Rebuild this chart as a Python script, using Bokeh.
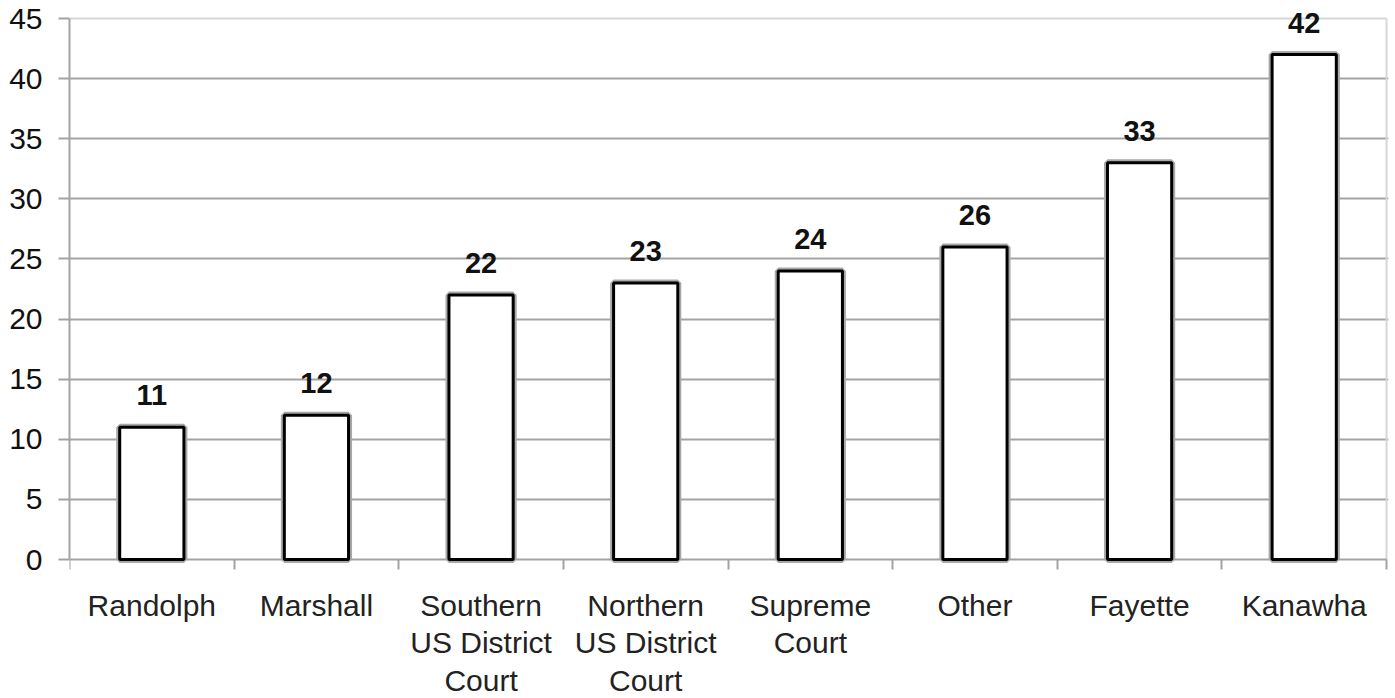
from bokeh.plotting import figure
from bokeh.models import FixedTicker, Range1d, ColumnDataSource
from bokeh.core.properties import value
from bokeh.embed import file_html
from bokeh.resources import INLINE

# Cases by venue
categories = ["Randolph", "Marshall", "Southern\nUS District\nCourt",
              "Northern\nUS District\nCourt", "Supreme\nCourt", "Other",
              "Fayette", "Kanawha"]
counts = [11, 12, 22, 23, 24, 26, 33, 42]
y_ticks = [0, 5, 10, 15, 20, 25, 30, 35, 40, 45]

FONT = "Liberation Sans"
GRID = "#a3a3a3"
LIGHT = "#d6d6d6"

n = len(categories)
centers = [i + 0.5 for i in range(n)]
src = ColumnDataSource(dict(x=centers, top=counts,
                            label=[str(c) for c in counts]))

# the frame fills the canvas height; the category axis sits at y = 0
p = figure(width=1395, height=698, output_backend="svg", toolbar_location=None,
           x_range=Range1d(0, n + 0.012),
           y_range=Range1d(-11.56, 46.5),
           min_border_left=69, min_border_right=7,
           min_border_top=0, min_border_bottom=0)
p.outline_line_color = None
p.background_fill_color = "white"

# grid
p.xgrid.visible = False
p.ygrid.ticker = FixedTicker(ticks=y_ticks[1:-1])
p.ygrid.grid_line_color = GRID
p.ygrid.grid_line_width = 2
p.segment(x0=[0], y0=[y_ticks[-1]], x1=[n], y1=[y_ticks[-1]],
          line_color=LIGHT, line_width=2)
p.segment(x0=[n], y0=[0], x1=[n], y1=[y_ticks[-1]],
          line_color=LIGHT, line_width=2)

# bars: grey halo under a black outline, drawn above the axis line
halo = p.vbar(x="x", top="top", bottom=0, width=0.39, source=src,
              fill_color="white", line_color="#a8a8a8", line_width=7)
bars = p.vbar(x="x", top="top", bottom=0, width=0.39, source=src,
              fill_color="white", line_color="black", line_width=3)
halo.level = "overlay"
bars.level = "overlay"

p.text(x="x", y="top", text="label", source=src, text_align="center",
       text_baseline="alphabetic", y_offset=-32,
       text_font=value(FONT), text_font_size="29px",
       text_font_style="bold", text_color="#111111")

# y axis
ya = p.yaxis[0]
ya.ticker = FixedTicker(ticks=y_ticks)
ya.bounds = (0, y_ticks[-1])
ya.axis_line_color = GRID
ya.axis_line_width = 2
ya.major_tick_line_color = GRID
ya.major_tick_line_width = 2
ya.major_tick_out = 11
ya.major_tick_in = 0
ya.minor_tick_line_color = None
ya.major_label_standoff = 16
ya.major_label_text_font = FONT
ya.major_label_text_font_size = "30px"
ya.major_label_text_color = "#111111"

# x axis: labels at bar centres, tick marks at slot boundaries
xa = p.xaxis[0]
xa.fixed_location = 0
xa.bounds = (0, n)
xa.ticker = FixedTicker(ticks=centers, minor_ticks=list(range(n + 1)))
xa.major_label_overrides = {c: lab for c, lab in zip(centers, categories)}
xa.axis_line_color = GRID
xa.axis_line_width = 2
xa.major_tick_line_color = None
xa.major_tick_out = 0
xa.major_tick_in = 0
xa.minor_tick_line_color = GRID
xa.minor_tick_line_width = 2
xa.minor_tick_out = 10
xa.minor_tick_in = 0
xa.major_label_standoff = 19
xa.major_label_text_font = FONT
xa.major_label_text_font_size = "30px"
xa.major_label_text_color = "#222222"
xa.major_label_text_line_height = 1.15

open("out.html", "w").write(file_html(p, INLINE))
